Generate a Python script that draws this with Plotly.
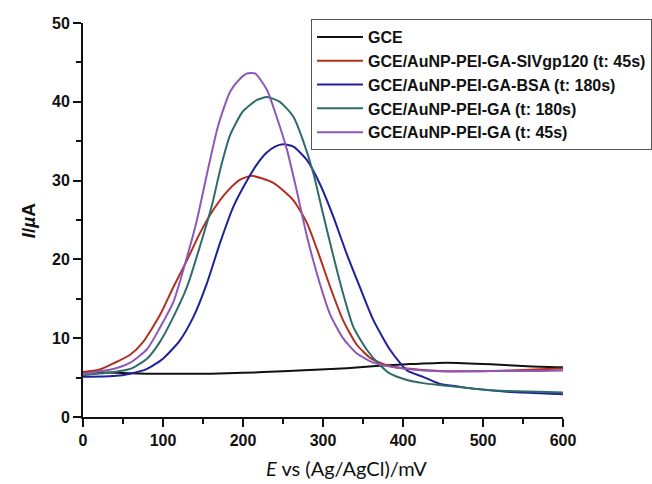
import plotly.graph_objects as go

# Differential pulse voltammograms, potential in mV vs Ag/AgCl, current in µA
e_gce = [0, 40, 80, 120, 160, 200, 250, 290, 330, 370, 405, 455, 510, 555, 600]
i_gce = [5.7, 5.6, 5.5, 5.5, 5.5, 5.6, 5.8, 6.0, 6.2, 6.5, 6.7, 6.9, 6.7, 6.45, 6.3]

e_siv = [0, 20, 38, 59, 75, 96, 113, 130, 146, 163, 180, 196, 211, 238, 263, 280,
         296, 309, 325, 342, 359, 371, 384, 405, 446, 488, 530, 571, 600]
i_siv = [5.7, 6.0, 6.8, 7.9, 9.5, 12.9, 16.5, 19.9, 23.3, 26.3, 28.6, 30.1, 30.6,
         29.7, 27.5, 24.6, 20.3, 16.5, 12.3, 9.2, 7.5, 6.9, 6.45, 6.15, 5.85, 5.8,
         5.9, 6.05, 6.15]

e_bsa = [0, 38, 59, 80, 100, 121, 138, 155, 171, 188, 205, 217, 229, 240, 250, 263,
         280, 296, 313, 330, 346, 363, 384, 405, 425, 446, 467, 488, 530, 571, 600]
i_bsa = [5.1, 5.2, 5.5, 6.1, 7.4, 9.7, 12.7, 17.0, 22.0, 26.7, 30.0, 32.0, 33.5,
         34.3, 34.6, 34.3, 32.6, 29.6, 25.4, 20.6, 16.5, 12.3, 8.5, 5.9, 5.1, 4.2,
         3.9, 3.6, 3.2, 3.0, 2.9]

e_ga180 = [0, 38, 59, 80, 96, 113, 130, 146, 161, 172, 184, 200, 217, 230, 246,
           263, 275, 288, 300, 313, 325, 338, 355, 371, 384, 405, 425, 446, 488,
           530, 571, 600]
i_ga180 = [5.3, 5.7, 6.1, 7.4, 9.5, 12.7, 16.5, 21.6, 26.8, 31.6, 35.8, 38.8, 40.2,
           40.6, 40.0, 38.1, 35.1, 30.9, 25.8, 20.4, 15.7, 11.4, 8.5, 6.6, 5.5,
           4.7, 4.3, 4.05, 3.6, 3.3, 3.2, 3.1]

e_ga45 = [0, 38, 59, 80, 96, 113, 130, 142, 157, 169, 184, 196, 205, 215, 230, 242,
          255, 267, 280, 296, 309, 325, 342, 363, 384, 405, 446, 488, 530, 571, 600]
i_ga45 = [5.5, 6.1, 6.9, 8.6, 11.3, 14.6, 20.3, 24.8, 31.8, 37.0, 41.3, 42.9, 43.6,
          43.6, 41.5, 38.1, 33.9, 28.8, 22.9, 16.95, 13.0, 10.0, 8.1, 6.9, 6.4,
          6.1, 5.8, 5.8, 5.85, 5.85, 5.9]

series = [
    ("GCE", e_gce, i_gce, "#111111"),
    ("GCE/AuNP-PEI-GA-SIVgp120 (t: 45s)", e_siv, i_siv, "#b0301f"),
    ("GCE/AuNP-PEI-GA-BSA (t: 180s)", e_bsa, i_bsa, "#20209a"),
    ("GCE/AuNP-PEI-GA (t: 180s)", e_ga180, i_ga180, "#2f6b6b"),
    ("GCE/AuNP-PEI-GA (t: 45s)", e_ga45, i_ga45, "#8e58b8"),
]

fig = go.Figure()
for name, xs, ys, color in series:
    fig.add_trace(go.Scatter(
        x=xs, y=ys, name="<b>" + name + "</b>", mode="lines",
        line=dict(color=color, width=2, shape="spline", smoothing=0.6),
    ))

tick_font = dict(family="Liberation Sans, Arial, sans-serif", size=16, color="#111111")
axis_common = dict(
    showline=True, linecolor="#111111", linewidth=2,
    ticks="outside", ticklen=8, tickwidth=2, tickcolor="#111111",
    showgrid=False, zeroline=False, mirror=False,
    tickfont=tick_font, tickprefix="<b>", ticksuffix="</b>",
)

fig.update_xaxes(
    range=[0, 600], tick0=0, dtick=100,
    minor=dict(ticks="outside", ticklen=5, tickwidth=2, tickcolor="#111111", dtick=50),
    **axis_common,
)
fig.update_yaxes(
    range=[0, 50], tick0=0, dtick=10,
    minor=dict(ticks="outside", ticklen=5, tickwidth=2, tickcolor="#111111", dtick=5),
    **axis_common,
)

fig.add_annotation(
    text="<b><i>I</i>/<i>µ</i>A</b>", xref="paper", yref="paper",
    x=-0.14, y=0.5, textangle=-90, showarrow=False,
    font=dict(family="Liberation Sans, Arial, sans-serif", size=19, color="#111111"),
)
fig.add_annotation(
    text="<i>E</i> vs (Ag/AgCl)/mV", xref="paper", yref="paper",
    x=0.548, y=-0.13, yanchor="middle", showarrow=False,
    font=dict(family="Lato, Liberation Sans, sans-serif", size=20, color="#111111"),
)

fig.update_layout(
    width=652, height=484,
    margin=dict(l=83, r=89, t=23, b=67, pad=0, autoexpand=False),
    paper_bgcolor="white", plot_bgcolor="white",
    showlegend=True,
    legend=dict(
        x=0.475, y=1.01, xanchor="left", yanchor="top",
        bgcolor="white", bordercolor="#555555", borderwidth=1,
        font=dict(family="Liberation Sans, Arial, sans-serif", size=16, color="#111111"),
        itemwidth=46, tracegroupgap=0,
    ),
)

fig.write_html("out.html")
